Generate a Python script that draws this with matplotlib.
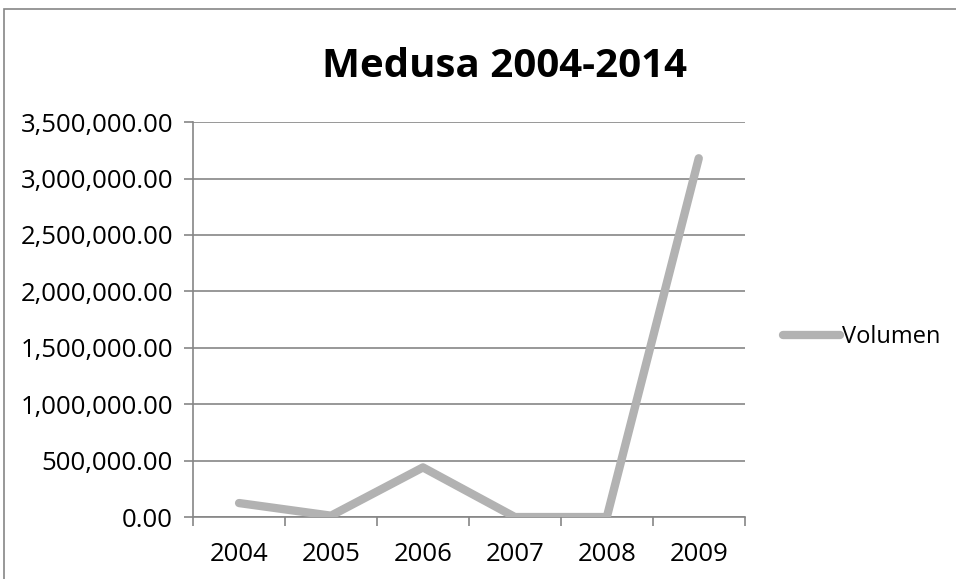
import matplotlib.pyplot as plt
from matplotlib.patches import Rectangle
from matplotlib.ticker import FuncFormatter, FixedLocator

years = ['2004', '2005', '2006', '2007', '2008', '2009']
volumen = [124000, 12000, 440000, 0, 0, 3180000]

plt.rcParams['font.family'] = ['Open Sans', 'DejaVu Sans']

fig = plt.figure(figsize=(9.56, 5.79), dpi=100)
ax = fig.add_axes([0.202, 0.107, 0.577, 0.682])

# outer chart frame (right and bottom edges fall outside the picture)
fig.patches.append(Rectangle((4 / 956, -0.5), 2.0, 1.5 - 9 / 579, transform=fig.transFigure,
                             fill=False, edgecolor='#868686', linewidth=1.2, zorder=0))

x = list(range(len(years)))
line, = ax.plot(x, volumen, color='#b2b2b2', linewidth=6, solid_capstyle='round',
                solid_joinstyle='round', label='Volumen', zorder=3)

ax.set_xlim(-0.5, len(years) - 0.5)
ax.set_ylim(0, 3500000)
ax.set_yticks(range(0, 3500001, 500000))
ax.yaxis.set_major_formatter(FuncFormatter(lambda v, p: f'{v:,.2f}'))
ax.yaxis.grid(True, color='#868686', linewidth=1.2)
ax.set_axisbelow(True)

ax.set_xticks(x)
ax.set_xticklabels(years)
ax.xaxis.set_minor_locator(FixedLocator([i - 0.5 for i in range(len(years) + 1)]))
ax.tick_params(axis='x', which='major', length=0, pad=18, labelsize=18.5)
ax.tick_params(axis='x', which='minor', length=6.5, color='#868686', width=1.2, direction='out')
ax.tick_params(axis='y', length=6.5, color='#868686', width=1.2, direction='out', labelsize=18.5, pad=8)

for s in ['top', 'right']:
    ax.spines[s].set_visible(False)
for s in ['left', 'bottom']:
    ax.spines[s].set_color('#868686')
    ax.spines[s].set_linewidth(1.2)

fig.text(0.528, 0.886, 'Medusa 2004-2014', ha='center', va='center',
         fontsize=29, fontweight='bold')

fig.legend(handles=[line], loc='center left', bbox_to_anchor=(0.819, 0.418),
           frameon=False, fontsize=17, handlelength=2.4, handletextpad=0.1,
           borderpad=0, borderaxespad=0)

fig.savefig('out.png', dpi=100)
